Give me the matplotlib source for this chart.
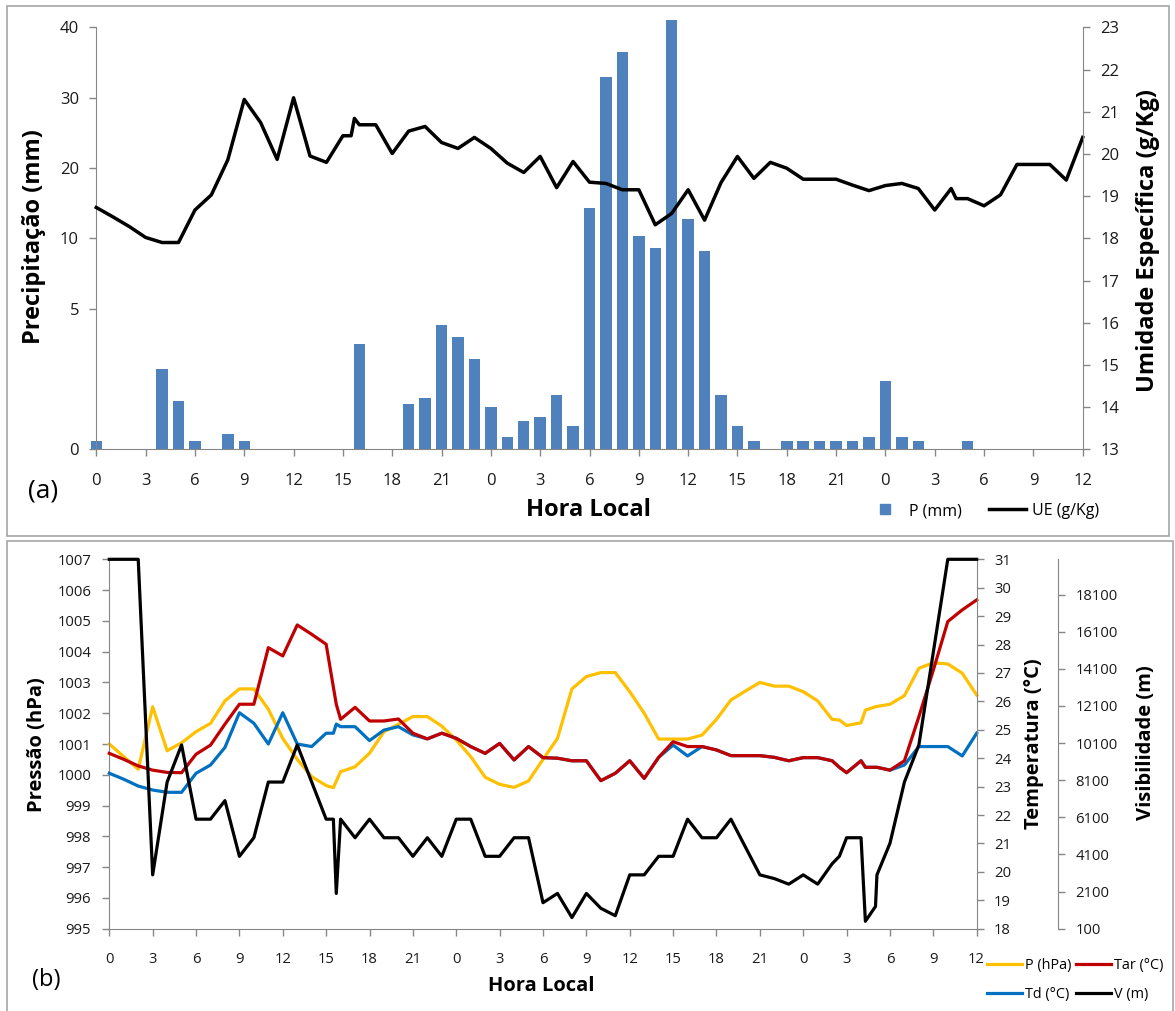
import numpy as np
import matplotlib
matplotlib.use('Agg')
import matplotlib.pyplot as plt
from matplotlib.lines import Line2D
from matplotlib.patches import Rectangle
from matplotlib.ticker import NullLocator

plt.rcParams['font.family'] = ['Open Sans', 'DejaVu Sans']

# ---- panel (a): hourly rain and specific humidity ----
hours_a = list(range(61))
precip_mm = [0.3, 0, 0, 0, 2.84, 1.71, 0.3, 0, 0.56, 0.3, 0, 0, 0, 0, 0, 0, 3.73, 0, 0, 1.62,
             1.83, 4.43, 4.0, 3.2, 1.51, 0.45, 1.02, 1.15, 1.93, 0.82,
             14.3, 33.0, 36.5, 10.3, 9.3, 41.0, 12.8, 9.1, 1.93, 0.82,
             0.3, 0, 0.3, 0.3, 0.3, 0.3, 0.3, 0.45, 2.42, 0.45,
             0.3, 0, 0, 0.3, 0, 0, 0, 0, 0, 0, 0]

ue_hours = [*range(0, 16), 15.5, 15.7, *range(16, 53), 52.3, *range(53, 61)]
ue_gkg = [18.73, 18.51, 18.28, 18.02, 17.90, 17.90, 18.67, 19.03, 19.86, 21.29, 20.74, 19.87, 21.33, 19.95, 19.80, 20.43,
          20.43, 20.84,
          20.69, 20.69, 20.01, 20.54, 20.65, 20.27, 20.13, 20.39, 20.13, 19.78,
          19.56, 19.94, 19.20, 19.82, 19.33, 19.30, 19.15, 19.15, 18.32, 18.59,
          19.15, 18.43, 19.32, 19.94, 19.42, 19.80, 19.66, 19.40, 19.40, 19.40,
          19.26, 19.13, 19.25, 19.30, 19.18, 18.67, 19.18,
          18.94,
          18.94, 18.77, 19.03, 19.75, 19.75, 19.75, 19.38, 20.39]

# ---- panel (b): pressure, temperatures and visibility ----
hours_b = [*range(0, 16), 15.5, 15.7, *range(16, 51), 50.5, 51, 52, 52.3, 53, 53.1, *range(54, 61)]
pres_hpa = [1001.0, 1000.59, 1000.18, 1002.21, 1000.78, 1001.04, 1001.40, 1001.67, 1002.40, 1002.79, 1002.79,
            1002.13, 1001.18, 1000.50, 999.94, 999.65,
            999.58, 999.79,
            1000.10, 1000.26, 1000.70, 1001.40, 1001.64, 1001.89, 1001.89, 1001.58, 1001.13, 1000.59,
            999.92, 999.69, 999.59, 999.80, 1000.50, 1001.18, 1002.79, 1003.19, 1003.32, 1003.32,
            1002.70, 1002.00, 1001.16, 1001.16, 1001.16, 1001.29, 1001.80, 1002.43, 1002.72, 1003.00,
            1002.88, 1002.88, 1002.70, 1002.40, 1001.80,
            1001.78,
            1001.60, 1001.69,
            1002.10,
            1002.21, 1002.22,
            1002.29, 1002.57, 1003.46, 1003.64, 1003.60, 1003.30, 1002.59]
t_air = [24.17, 23.96, 23.73, 23.58, 23.50, 23.49, 24.14, 24.46, 25.20, 25.90, 25.90, 27.89, 27.60, 28.69, 28.36, 28.01,
         26.50, 25.90,
         25.37, 25.79, 25.31, 25.31, 25.38, 24.88, 24.68, 24.88, 24.70, 24.41,
         24.17, 24.52, 23.94, 24.41, 24.02, 24.00, 23.91, 23.91, 23.21, 23.47,
         23.91, 23.29, 24.03, 24.58, 24.41, 24.41, 24.29, 24.09, 24.09, 24.09,
         24.03, 23.91, 24.02, 24.02, 23.91,
         23.68,
         23.49, 23.91,
         23.68,
         23.68, 23.68,
         23.58, 23.91, 25.46, 27.10, 28.81, 29.22, 29.57]
t_dew = [23.47, 23.26, 23.02, 22.88, 22.80, 22.80, 23.47, 23.76, 24.38, 25.60, 25.23, 24.50, 25.60, 24.50, 24.41, 24.88,
         24.88, 25.20,
         25.11, 25.11, 24.62, 24.99, 25.11, 24.82, 24.68, 24.88, 24.70, 24.41,
         24.17, 24.52, 23.94, 24.41, 24.02, 24.00, 23.91, 23.91, 23.21, 23.47,
         23.91, 23.29, 24.03, 24.46, 24.08, 24.41, 24.29, 24.09, 24.09, 24.09,
         24.03, 23.91, 24.02, 24.02, 23.91,
         23.68,
         23.49, 23.91,
         23.68,
         23.68, 23.68,
         23.58, 23.76, 24.41, 24.41, 24.41, 24.08, 24.88]
vis_m = [20000, 20000, 20000, 3000, 8000, 10000, 6000, 6000, 7000, 4000, 5000, 8000, 8000, 10000, 8000, 6000,
         6000, 2000,
         6000, 5000, 6000, 5000, 5000, 4000, 5000, 4000, 6000, 6000,
         4000, 4000, 5000, 5000, 1500, 2000, 700, 2000, 1200, 800,
         3000, 3000, 4000, 4000, 6000, 5000, 5000, 6000, 4500, 3000,
         2800, 2500, 3000, 2500, 3600,
         4000,
         5000, 5000,
         500,
         1300, 3000,
         4700, 8000, 10000, 15000, 20000, 20000, 20000]

hour_ticks = list(range(0, 61, 3))
hour_labels = [str(h % 24) for h in hour_ticks]

# rain axis: 0-5 gets twice the room of each step above it
prec_levels = [-5, 0, 5, 10, 20, 30, 40, 50]
prec_pos = [-2, 0, 2, 3, 4, 5, 6, 7]


def rain_fwd(v):
    return np.interp(v, prec_levels, prec_pos)


def rain_inv(p):
    return np.interp(p, prec_pos, prec_levels)


W, H = 1175, 1011
GRAY = '#868686'
TXT = '#1a1a1a'


def box(x0, y0, x1, y1):
    return [x0 / W, 1 - y1 / H, (x1 - x0) / W, (y1 - y0) / H]


def style(ax, show, size, xpad, ypad):
    for s in ['left', 'right', 'top', 'bottom']:
        ax.spines[s].set_visible(s in show)
        ax.spines[s].set_color(GRAY)
    ax.tick_params(direction='out', length=5, width=1, color=GRAY,
                   labelsize=size, labelcolor=TXT)
    ax.tick_params(axis='x', pad=xpad)
    ax.tick_params(axis='y', pad=ypad)


fig = plt.figure(figsize=(W / 100, H / 100), dpi=100)

# outer frames of the two panels
fig.add_artist(Rectangle((6.7 / W, 1 - 536 / H), (1169 - 6.7) / W, (536 - 6) / H,
                         transform=fig.transFigure, fill=False, ec='#a6a6a6', lw=1.2))
fig.add_artist(Rectangle((6.7 / W, 1 - 1030 / H), (1173 - 6.7) / W, (1030 - 540.7) / H,
                         transform=fig.transFigure, fill=False, ec='#a6a6a6', lw=1.2))

# ---------- (a) ----------
ax_a = fig.add_axes(box(96.3, 27.3, 1082.7, 449.3))
ax_a.set_yscale('function', functions=(rain_fwd, rain_inv))
ax_a.bar(hours_a, precip_mm, width=0.7, color='#4F81BD', clip_on=False, zorder=2)
ax_a.set_xlim(0, 60)
ax_a.set_ylim(0, 40)
ax_a.set_yticks([0, 5, 10, 20, 30, 40])
ax_a.set_yticklabels(['0', '5', '10', '20', '30', '40'])
ax_a.yaxis.set_minor_locator(NullLocator())
ax_a.set_xticks(hour_ticks)
ax_a.set_xticklabels(hour_labels)
style(ax_a, ['left', 'bottom'], 12, 12, 7.5)

ax_ue = ax_a.twinx()
ax_ue.plot(ue_hours, ue_gkg, color='black', lw=2.5, clip_on=False)
ax_ue.set_ylim(13, 23)
ax_ue.set_yticks(range(13, 24))
style(ax_ue, ['right'], 12, 12, 7.5)

fig.text(34 / W, 1 - 237 / H, 'Precipitação (mm)', rotation=90, ha='center', va='center',
         fontsize=17, fontweight='bold')
fig.text(1148 / W, 1 - 240 / H, 'Umidade Específica (g/Kg)', rotation=90, ha='center', va='center',
         fontsize=17, fontweight='bold')
fig.text(588 / W, 1 - 510 / H, 'Hora Local', ha='center', va='center', fontsize=17, fontweight='bold')
fig.text(28 / W, 1 - 491 / H, '(a)', ha='left', va='center', fontsize=19)

leg_a = [Line2D([], [], ls='none', marker='s', markersize=6.7, color='#4F81BD'),
         Line2D([], [], color='black', lw=2.5)]
fig.legend(leg_a, ['P (mm)', 'UE (g/Kg)'], ncol=2, loc='upper left',
           bbox_to_anchor=(867 / W, 1 - 503 / H), frameon=False, fontsize=11.5,
           borderpad=0, borderaxespad=0, handlelength=2.3, handletextpad=0.35,
           columnspacing=1.7)

# ---------- (b) ----------
ax_b = fig.add_axes(box(109.3, 559.3, 976.7, 928.7))
ax_b.plot(hours_b, pres_hpa, color='#FFC000', lw=2.3, clip_on=False)
ax_b.set_xlim(0, 60)
ax_b.set_ylim(995, 1007)
ax_b.set_yticks(range(995, 1008))
ax_b.set_xticks(hour_ticks)
ax_b.set_xticklabels(hour_labels)
style(ax_b, ['left', 'bottom'], 10.7, 11.5, 8)

ax_t = ax_b.twinx()
ax_t.plot(hours_b, t_dew, color='#0070C0', lw=2.3, clip_on=False)
ax_t.plot(hours_b, t_air, color='#C00000', lw=2.3, clip_on=False)
ax_t.set_ylim(18, 31)
ax_t.set_yticks(range(18, 32))
style(ax_t, ['right'], 10.7, 11.5, 7.5)

ax_v = ax_b.twinx()
ax_v.spines['right'].set_position(('axes', (1058 - 109.3) / (976.7 - 109.3)))
ax_v.plot(hours_b, vis_m, color='black', lw=2.3, clip_on=False)
ax_v.set_ylim(100, 20000)
ax_v.set_yticks(range(100, 18101, 2000))
style(ax_v, ['right'], 10.7, 11.5, 7.5)

fig.text(37 / W, 1 - 745 / H, 'Pressão (hPa)', rotation=90, ha='center', va='center',
         fontsize=14.5, fontweight='bold')
fig.text(1034 / W, 1 - 744 / H, 'Temperatura (°C)', rotation=90, ha='center', va='center',
         fontsize=14.5, fontweight='bold')
fig.text(1146 / W, 1 - 743 / H, 'Visibilidade (m)', rotation=90, ha='center', va='center',
         fontsize=14.5, fontweight='bold')
fig.text(541 / W, 1 - 986 / H, 'Hora Local', ha='center', va='center', fontsize=14.5, fontweight='bold')
fig.text(32 / W, 1 - 980 / H, '(b)', ha='left', va='center', fontsize=17)

leg_b = [Line2D([], [], color='#FFC000', lw=2.3), Line2D([], [], color='#0070C0', lw=2.3),
         Line2D([], [], color='#C00000', lw=2.3), Line2D([], [], color='black', lw=2.3)]
fig.legend(leg_b, ['P (hPa)', 'Td (°C)', 'Tar (°C)', 'V (m)'], ncol=2, loc='upper left',
           bbox_to_anchor=(987 / W, 1 - 958 / H), frameon=False, fontsize=10.4,
           borderpad=0, borderaxespad=0, handlelength=2.4, handletextpad=0.2,
           columnspacing=0.35, labelspacing=1.0)

fig.savefig('out.png', dpi=100)
